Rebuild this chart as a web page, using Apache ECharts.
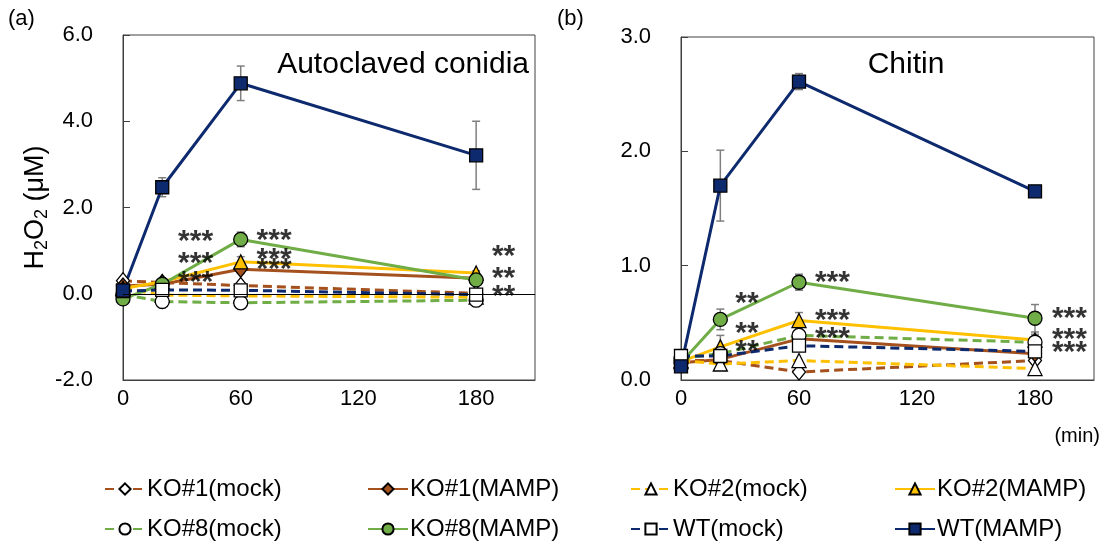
<!DOCTYPE html>
<html>
<head>
<meta charset="utf-8">
<title>H2O2 production</title>
<script src="https://cdn.jsdelivr.net/npm/echarts@6/dist/echarts.min.js"></script>
<style>
html, body { margin: 0; padding: 0; background: #fff; }
#chart { width: 1105px; height: 542px; }
</style>
</head>
<body>
<div id="chart"></div>
<script>
// time points (min)
var times = [0, 20, 60, 180];

var names = ['KO#1(mock)', 'KO#1(MAMP)', 'KO#2(mock)', 'KO#2(MAMP)',
             'KO#8(mock)', 'KO#8(MAMP)', 'WT(mock)', 'WT(MAMP)'];

// (a) Autoclaved conidia, H2O2 (uM)
var ko1MockA = [0.30, 0.26, 0.19, 0.01];
var ko1MampA = [0.18, 0.22, 0.57, 0.36];
var ko2MockA = [0.12, -0.03, -0.05, -0.08];
var ko2MampA = [0.12, 0.28, 0.74, 0.48];
var ko8MockA = [-0.02, -0.18, -0.21, -0.15];
var ko8MampA = [-0.12, 0.22, 1.26, 0.32];
var wtMockA = [0.06, 0.09, 0.08, -0.02];
var wtMampA = [0.08, 2.47, 4.88, 3.21];

// error bars (a)
var errKo1MampA = [0.03, 0.04, 0.10, 0.05];
var errKo2MampA = [0.03, 0.05, 0.12, 0.05];
var errKo8MampA = [0.04, 0.05, 0.17, 0.08];
var errWtMampA = [0.05, 0.22, 0.40, 0.79];

// (b) Chitin, H2O2 (uM)
var ko1MockB = [0.17, 0.17, 0.07, 0.17];
var ko1MampB = [0.15, 0.18, 0.36, 0.23];
var ko2MockB = [0.17, 0.14, 0.17, 0.10];
var ko2MampB = [0.16, 0.29, 0.52, 0.35];
var ko8MockB = [0.19, 0.23, 0.39, 0.33];
var ko8MampB = [0.15, 0.53, 0.855, 0.54];
var wtMockB = [0.21, 0.21, 0.30, 0.25];
var wtMampB = [0.12, 1.70, 2.61, 1.65];

// error bars (b)
var errKo2MampB = [0.02, 0.10, 0.07, 0.05];
var errKo8MampB = [0.02, 0.09, 0.07, 0.12];
var errWtMampB = [0.03, 0.31, 0.07, 0.05];

// significance marks [time, value, text]
var starsA = [[37, 1.36, '***'], [37, 0.86, '***'], [37, 0.41, '***'],
              [77, 1.40, '***'], [77, 0.94, '***'], [77, 0.72, '***'],
              [194, 1.02, '**'], [194, 0.51, '**'], [194, 0.09, '**']];
var starsB = [[33.5, 0.73, '**'], [33.5, 0.47, '**'], [33.5, 0.31, '**'],
              [77, 0.91, '***'], [77, 0.58, '***'], [77, 0.42, '***'],
              [197.5, 0.60, '***'], [197.5, 0.41, '***'], [197.5, 0.30, '***']];

var FONT = '"Liberation Sans", Arial, sans-serif';
var BROWN = '#A5511E', YELLOW = '#FFC000', GREEN = '#70AD47', NAVY = '#0E2A6E';
var lineColors = [BROWN, BROWN, YELLOW, YELLOW, GREEN, GREEN, NAVY, NAVY];
var symbols = ['diamond', 'diamond', 'triangle', 'triangle', 'circle', 'circle', 'rect', 'rect'];
var symSizes = [[13, 16], [13, 16], 14, 14, 14, 14, 13, 13];

var dataA = [ko1MockA, ko1MampA, ko2MockA, ko2MampA, ko8MockA, ko8MampA, wtMockA, wtMampA];
var dataB = [ko1MockB, ko1MampB, ko2MockB, ko2MampB, ko8MockB, ko8MampB, wtMockB, wtMampB];

function pts(vals) {
  return times.map(function (t, i) { return [t, vals[i]]; });
}

function errPts(vals, errs) {
  return times.map(function (t, i) { return [t, vals[i], errs[i]]; });
}

function lineSeries(i, vals, ax) {
  var mock = i % 2 === 0;
  return {
    type: 'line',
    name: names[i],
    xAxisIndex: ax, yAxisIndex: ax,
    data: pts(vals),
    symbol: symbols[i],
    symbolSize: symSizes[i],
    showAllSymbol: true,
    itemStyle: { color: mock ? '#fff' : lineColors[i], borderColor: '#000', borderWidth: 1.3 },
    lineStyle: { color: lineColors[i], width: 3, type: mock ? [9, 5] : 'solid' },
    emphasis: { disabled: true },
    animation: false,
    z: 3
  };
}

function errorSeries(data, ax) {
  return {
    type: 'custom',
    xAxisIndex: ax, yAxisIndex: ax,
    data: data,
    silent: true,
    animation: false,
    z: 2,
    renderItem: function (params, api) {
      var t = api.value(0), v = api.value(1), e = api.value(2);
      var top = api.coord([t, v + e]);
      var bot = api.coord([t, v - e]);
      var st = { stroke: '#7F7F7F', lineWidth: 1.5 };
      return {
        type: 'group',
        children: [
          { type: 'line', shape: { x1: top[0], y1: top[1], x2: bot[0], y2: bot[1] }, style: st },
          { type: 'line', shape: { x1: top[0] - 4, y1: top[1], x2: top[0] + 4, y2: top[1] }, style: st },
          { type: 'line', shape: { x1: bot[0] - 4, y1: bot[1], x2: bot[0] + 4, y2: bot[1] }, style: st }
        ]
      };
    }
  };
}

function starSeries(data, ax) {
  return {
    type: 'scatter',
    xAxisIndex: ax, yAxisIndex: ax,
    data: data,
    symbolSize: 2,
    itemStyle: { color: 'rgba(0,0,0,0)' },
    silent: true,
    animation: false,
    z: 5,
    label: {
      show: true, position: 'inside', offset: [0, 7],
      formatter: function (p) { return p.data[2]; },
      color: '#000', fontSize: 30, fontWeight: 'bold', fontFamily: FONT
    }
  };
}

var series = [];
dataA.forEach(function (v, i) { series.push(lineSeries(i, v, 0)); });
dataB.forEach(function (v, i) { series.push(lineSeries(i, v, 1)); });

// zero line across panel (a)
series[0].markLine = {
  silent: true, symbol: 'none', animation: false,
  label: { show: false },
  lineStyle: { color: '#000', width: 1, type: 'solid' },
  data: [{ yAxis: 0 }]
};

series.push(errorSeries(errPts(ko1MampA, errKo1MampA)
  .concat(errPts(ko2MampA, errKo2MampA))
  .concat(errPts(ko8MampA, errKo8MampA))
  .concat(errPts(wtMampA, errWtMampA)), 0));
series.push(errorSeries(errPts(ko2MampB, errKo2MampB)
  .concat(errPts(ko8MampB, errKo8MampB))
  .concat(errPts(wtMampB, errWtMampB)), 1));
series.push(starSeries(starsA, 0));
series.push(starSeries(starsB, 1));

function xAxisCfg(idx) {
  return {
    type: 'value', gridIndex: idx,
    min: 0, max: 210, interval: 60,
    axisLine: { onZero: false, lineStyle: { color: '#404040', width: 1 } },
    axisTick: { show: false },
    splitLine: { show: false },
    axisLabel: {
      showMaxLabel: false, margin: 8,
      color: '#000', fontSize: 22, fontFamily: FONT
    }
  };
}

function yAxisCfg(idx, min, max, interval) {
  return {
    type: 'value', gridIndex: idx,
    min: min, max: max, interval: interval,
    axisLine: { show: true, onZero: false, lineStyle: { color: '#404040', width: 1 } },
    axisTick: { show: true, inside: true, length: 7, lineStyle: { color: '#404040' } },
    splitLine: { show: false },
    axisLabel: {
      margin: 30, color: '#000', fontSize: 22, fontFamily: FONT,
      formatter: function (v) { return v.toFixed(1); }
    }
  };
}

var yA = yAxisCfg(0, -2, 6, 2);
yA.name = '{m|H}{s|2}{m|O}{s|2}{m| (μM)}';
yA.nameLocation = 'middle';
yA.nameGap = 70;
yA.nameTextStyle = {
  rich: {
    m: { fontSize: 27, fontFamily: FONT, color: '#000' },
    s: { fontSize: 18, fontFamily: FONT, color: '#000', padding: [14, 0, 0, 0] }
  }
};

// legend: 4 columns x 2 rows
var legendOrder = [0, 1, 2, 3, 4, 5, 6, 7];
var colLefts = [99, 362, 625, 889];
var rowTops = [472, 512];

function legendItem(k) {
  return {
    left: colLefts[k % 4], top: rowTops[Math.floor(k / 4)],
    data: [names[legendOrder[k]]],
    itemWidth: 40, itemHeight: 14,
    selectedMode: false,
    textStyle: { fontSize: 24, fontFamily: FONT, color: '#000', padding: [0, 0, 0, -3] }
  };
}

var option = {
  backgroundColor: '#fff',
  animation: false,
  grid: [
    { left: 123, top: 35, width: 412, height: 345, show: true, borderColor: '#404040', borderWidth: 1 },
    { left: 681, top: 37, width: 413, height: 343, show: true, borderColor: '#404040', borderWidth: 1 }
  ],
  xAxis: [xAxisCfg(0), xAxisCfg(1)],
  yAxis: [yA, yAxisCfg(1, 0, 3, 1)],
  legend: legendOrder.map(function (n, k) { return legendItem(k); }),
  graphic: [
    { type: 'text', x: 8, y: 8, style: { text: '(a)', font: '22px ' + FONT, fill: '#000' } },
    { type: 'text', x: 557, y: 8, style: { text: '(b)', font: '22px ' + FONT, fill: '#000' } },
    { type: 'text', x: 529, y: 50, style: { text: 'Autoclaved conidia', font: '30px ' + FONT, fill: '#000', textAlign: 'right' } },
    { type: 'text', x: 906, y: 50, style: { text: 'Chitin', font: '30px ' + FONT, fill: '#000', textAlign: 'center' } },
    { type: 'text', x: 1100, y: 426, style: { text: '(min)', font: '20px ' + FONT, fill: '#000', textAlign: 'right' } }
  ],
  series: series
};

var chart = echarts.init(document.getElementById('chart'));
chart.setOption(option);
</script>
</body>
</html>
